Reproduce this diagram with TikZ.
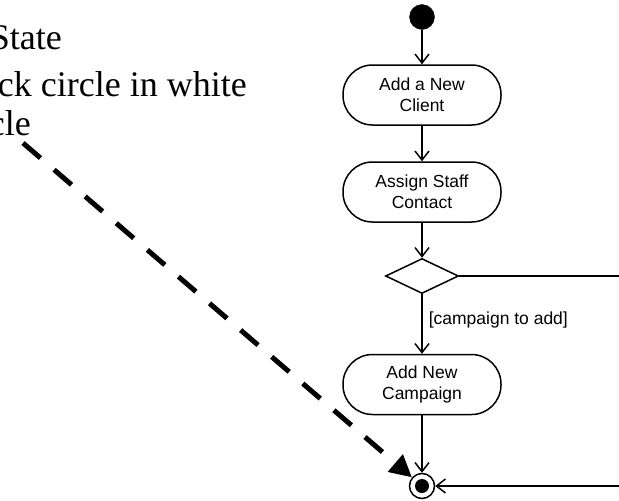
\documentclass[tikz,border=0pt]{standalone}
\usepackage{fontspec}
\setmainfont{Liberation Serif}
\newfontfamily\diagfont{Liberation Sans}
\usetikzlibrary{arrows.meta,shapes.geometric}

\begin{document}
\begin{tikzpicture}[x=1pt, y=-1pt,
    activity/.style={draw, line width=1.5pt, rounded corners=29.5pt, minimum width=158pt, minimum height=60pt,
        align=center, inner sep=0pt, font=\diagfont\fontsize{17.5}{21}\selectfont},
    flow/.style={line width=1.5pt, -{Straight Barb[length=9pt,width=14pt]}},
    note/.style={anchor=base east, inner sep=0pt, font=\fontsize{36}{42}\selectfont}]
                \useasboundingbox (0, 0) rectangle (619, 501);

                % cropped slide text
                \node[note] (title) at (62, 49) {State};
                \node[note] (bullet) at (247, 96) {ck circle in white};
                \node[note] (bulletend) at (31, 135) {cle};

                \node[draw, circle, fill=black, minimum size=25pt, inner sep=0pt] (start) at (422, 17) {};
                \node[activity] (client) at (422, 95) {Add a New\\Client};
                \node[activity] (staff) at (422, 192) {Assign Staff\\Contact};
                \node[draw, diamond, line width=1.5pt, minimum width=73pt, minimum height=35pt, inner sep=0pt] (choice) at (422, 276) {};
                \node[activity] (campaign) at (422, 384.5) {Add New\\Campaign};
                \node[draw, circle, line width=1.5pt, minimum size=25pt, inner sep=0pt,
                    path picture={\fill (path picture bounding box.center) circle (7pt);}] (final) at (422, 486) {};

                \coordinate (pointer) at (23, 143);
                \coordinate (loop) at (640, 276);

                \draw[flow] (start) -- (client);
                \draw[flow] (client) -- (staff);
                \draw[flow] (staff) -- (choice);
                \draw[flow] (choice) -- node[midway, anchor=west, xshift=6pt, yshift=4pt, inner sep=0pt,
                    font=\diagfont\fontsize{17.5}{21}\selectfont] (guard) {[campaign to add]} (campaign);
                \draw[flow] (campaign) -- (final);
                \draw[flow] (choice.east) -- (loop) |- (final);

                \draw[line width=5pt, dash pattern=on 23pt off 18pt, -{Triangle[length=22pt,width=22pt]}]
                (pointer) -- (final);
\end{tikzpicture}
\end{document}
